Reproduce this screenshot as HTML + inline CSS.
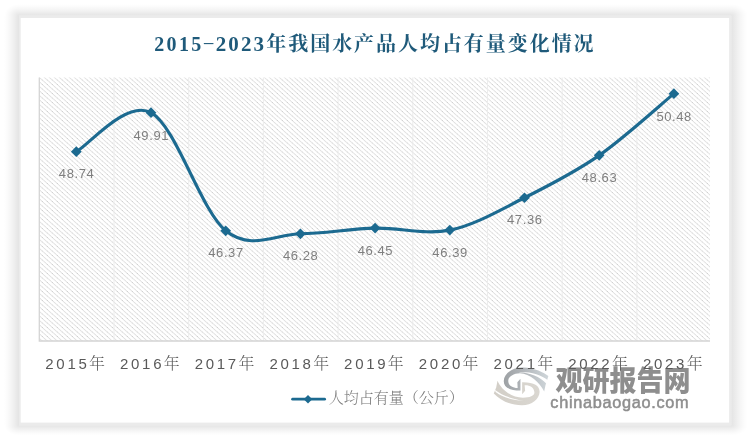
<!DOCTYPE html>
<html lang="zh-CN">
<head>
<meta charset="utf-8">
<title>2015-2023年我国水产品人均占有量变化情况</title>
<style>
html,body{margin:0;padding:0;background:#fff;}
body{width:750px;height:441px;position:relative;overflow:hidden;font-family:"Liberation Sans","Noto Sans CJK SC",sans-serif;}
svg{position:absolute;left:0;top:0;}
.title{font-family:"Liberation Serif","Noto Serif CJK SC",serif;font-weight:bold;font-size:20px;fill:#1f5a7a;}
.dl text{font-family:"Liberation Sans",sans-serif;font-size:13px;fill:#7f7f7f;letter-spacing:0.6px;text-anchor:middle;}
.yd{font-family:"Liberation Sans",sans-serif;font-size:15px;letter-spacing:2.7px;}
.yc{font-family:"Liberation Serif","Noto Serif CJK SC",serif;font-size:16px;font-weight:300;}
.years text{fill:#595959;}
.legend{font-family:"Liberation Serif","Noto Serif CJK SC",serif;font-size:15px;font-weight:300;fill:#7a7a7a;}
.wm1{font-family:"Liberation Sans","Noto Sans CJK SC",sans-serif;font-weight:900;font-size:27px;fill:#8e8e8e;}
.wm2{font-family:"Liberation Sans",sans-serif;font-size:16.3px;fill:#8e8e8e;stroke:#8e8e8e;stroke-width:0.5px;letter-spacing:0.7px;}
</style>
</head>
<body>
<svg width="750" height="441" viewBox="0 0 750 441">
<defs>
<pattern id="hatch" width="5" height="4.5" patternUnits="userSpaceOnUse" x="39.8" y="77.8">
<path d="M-1,-0.9 L6,5.4 M-1,3.6 L1,5.4 M4,-0.9 L6,0.9" stroke="#d2d2d2" stroke-width="0.8" fill="none"/>
<g fill="#bdbdbd"><circle cx="0" cy="0" r="0.55"/><circle cx="5" cy="4.5" r="0.55"/><circle cx="2.5" cy="2.25" r="0.55"/></g>
</pattern>
<linearGradient id="g1" x1="0" y1="0" x2="1" y2="0"><stop offset="0" stop-color="#9da1a4"/><stop offset="0.4" stop-color="#b0b4b8"/><stop offset="1" stop-color="#cfd6da"/></linearGradient>
<linearGradient id="g2" x1="0" y1="0" x2="1" y2="0"><stop offset="0" stop-color="#d2cec7"/><stop offset="1" stop-color="#dad7d1"/></linearGradient>
<linearGradient id="sT" x1="0" y1="1" x2="0" y2="0"><stop offset="0.00" stop-color="#000" stop-opacity="0.1080"/><stop offset="0.20" stop-color="#000" stop-opacity="0.0808"/><stop offset="0.40" stop-color="#000" stop-opacity="0.0556"/><stop offset="0.60" stop-color="#000" stop-opacity="0.0328"/><stop offset="0.80" stop-color="#000" stop-opacity="0.0133"/><stop offset="1.00" stop-color="#000" stop-opacity="0.0000"/></linearGradient>
<linearGradient id="sB" x1="0" y1="0" x2="0" y2="1"><stop offset="0.00" stop-color="#000" stop-opacity="0.1080"/><stop offset="0.20" stop-color="#000" stop-opacity="0.0808"/><stop offset="0.40" stop-color="#000" stop-opacity="0.0556"/><stop offset="0.60" stop-color="#000" stop-opacity="0.0328"/><stop offset="0.80" stop-color="#000" stop-opacity="0.0133"/><stop offset="1.00" stop-color="#000" stop-opacity="0.0000"/></linearGradient>
<linearGradient id="sL" x1="1" y1="0" x2="0" y2="0"><stop offset="0.00" stop-color="#000" stop-opacity="0.1080"/><stop offset="0.20" stop-color="#000" stop-opacity="0.0808"/><stop offset="0.40" stop-color="#000" stop-opacity="0.0556"/><stop offset="0.60" stop-color="#000" stop-opacity="0.0328"/><stop offset="0.80" stop-color="#000" stop-opacity="0.0133"/><stop offset="1.00" stop-color="#000" stop-opacity="0.0000"/></linearGradient>
<linearGradient id="sR" x1="0" y1="0" x2="1" y2="0"><stop offset="0.00" stop-color="#000" stop-opacity="0.1080"/><stop offset="0.20" stop-color="#000" stop-opacity="0.0808"/><stop offset="0.40" stop-color="#000" stop-opacity="0.0556"/><stop offset="0.60" stop-color="#000" stop-opacity="0.0328"/><stop offset="0.80" stop-color="#000" stop-opacity="0.0133"/><stop offset="1.00" stop-color="#000" stop-opacity="0.0000"/></linearGradient>
<radialGradient id="cTL" cx="1" cy="1" r="1"><stop offset="0.00" stop-color="#000" stop-opacity="0.1080"/><stop offset="0.20" stop-color="#000" stop-opacity="0.0808"/><stop offset="0.40" stop-color="#000" stop-opacity="0.0556"/><stop offset="0.60" stop-color="#000" stop-opacity="0.0328"/><stop offset="0.80" stop-color="#000" stop-opacity="0.0133"/><stop offset="1.00" stop-color="#000" stop-opacity="0.0000"/></radialGradient>
<radialGradient id="cTR" cx="0" cy="1" r="1"><stop offset="0.00" stop-color="#000" stop-opacity="0.1080"/><stop offset="0.20" stop-color="#000" stop-opacity="0.0808"/><stop offset="0.40" stop-color="#000" stop-opacity="0.0556"/><stop offset="0.60" stop-color="#000" stop-opacity="0.0328"/><stop offset="0.80" stop-color="#000" stop-opacity="0.0133"/><stop offset="1.00" stop-color="#000" stop-opacity="0.0000"/></radialGradient>
<radialGradient id="cBL" cx="1" cy="0" r="1"><stop offset="0.00" stop-color="#000" stop-opacity="0.1080"/><stop offset="0.20" stop-color="#000" stop-opacity="0.0808"/><stop offset="0.40" stop-color="#000" stop-opacity="0.0556"/><stop offset="0.60" stop-color="#000" stop-opacity="0.0328"/><stop offset="0.80" stop-color="#000" stop-opacity="0.0133"/><stop offset="1.00" stop-color="#000" stop-opacity="0.0000"/></radialGradient>
<radialGradient id="cBR" cx="0" cy="0" r="1"><stop offset="0.00" stop-color="#000" stop-opacity="0.1080"/><stop offset="0.20" stop-color="#000" stop-opacity="0.0808"/><stop offset="0.40" stop-color="#000" stop-opacity="0.0556"/><stop offset="0.60" stop-color="#000" stop-opacity="0.0328"/><stop offset="0.80" stop-color="#000" stop-opacity="0.0133"/><stop offset="1.00" stop-color="#000" stop-opacity="0.0000"/></radialGradient>
</defs>
<g id="card">
<rect x="19.0" y="4.0" width="712.2" height="11.8" fill="url(#sT)"/>
<rect x="19.0" y="425.2" width="712.2" height="10.3" fill="url(#sB)"/>
<rect x="4.0" y="15.8" width="15.0" height="409.4" fill="url(#sL)"/>
<rect x="731.2" y="15.8" width="16.5" height="409.4" fill="url(#sR)"/>
<rect x="4.0" y="4.0" width="15.0" height="11.8" fill="url(#cTL)"/>
<rect x="731.2" y="4.0" width="16.5" height="11.8" fill="url(#cTR)"/>
<rect x="4.0" y="425.2" width="15.0" height="10.3" fill="url(#cBL)"/>
<rect x="731.2" y="425.2" width="16.5" height="10.3" fill="url(#cBR)"/>
<rect x="19.0" y="15.8" width="712.2" height="409.4" fill="#ebebeb"/>
<rect x="20.7" y="18.0" width="708.4" height="404.6" fill="#fff"/>
</g>
<rect x="39.3" y="77.5" width="670.7" height="263.5" fill="url(#hatch)"/>
<g stroke="#ececec" stroke-width="1"><line x1="114.0" y1="77.5" x2="114.0" y2="341.0"/><line x1="188.7" y1="77.5" x2="188.7" y2="341.0"/><line x1="263.4" y1="77.5" x2="263.4" y2="341.0"/><line x1="338.1" y1="77.5" x2="338.1" y2="341.0"/><line x1="412.8" y1="77.5" x2="412.8" y2="341.0"/><line x1="487.5" y1="77.5" x2="487.5" y2="341.0"/><line x1="562.2" y1="77.5" x2="562.2" y2="341.0"/><line x1="636.9" y1="77.5" x2="636.9" y2="341.0"/></g>
<path d="M39.3,77.5 L39.3,341 L710.0,341" fill="none" stroke="#d4d4d4" stroke-width="1.3"/>
<text class="title" x="154.3" y="50.6" font-size="21" letter-spacing="2.3">2015</text>
<text class="title" font-size="21" transform="translate(202.6,46.8) scale(1.85,0.65)">-</text>
<text class="title" x="215.8" y="50.6"><tspan letter-spacing="2.05" font-size="21">2023</tspan><tspan letter-spacing="1.95" dx="0.3">年我国水产品人均占有量变化情况</tspan></text>
<g id="wm">
<g id="logo" transform="translate(490,364) scale(0.0998)">
<path d="M585,120 C540,85 450,40 330,35 C230,32 140,90 138,170 C137,230 190,266 305,266 L305,148 L274,182 L277,240 C230,240 185,220 183,170 C182,125 240,92 300,92 C400,96 495,180 543,275 L556,212 Z" fill="url(#g1)"/>
<path d="M579,164 L566,197 C500,128 400,84 290,82 C400,76 520,112 579,164 Z" fill="#fff"/>
<path d="M38,296 C100,362 200,414 320,414 C420,412 495,350 497,280 C498,215 440,180 322,182 L322,302 L352,267 L347,214 C400,212 442,235 445,285 C446,318 400,338 330,338 C220,338 115,262 75,168 L62,235 Z" fill="url(#g2)"/>
<path d="M48,258 L56,280 C130,336 230,364 340,368 C230,354 120,316 48,258 Z" fill="#fff"/>
</g>
<text class="wm1" transform="translate(555.5,390.8) scale(1,1.05)">观研报告网</text>
<text class="wm2" x="550.3" y="408">chinabaogao.com</text>
</g>
<path d="M76.30,151.70 C88.75,145.19 126.10,99.48 151.00,112.66 C175.90,125.84 200.80,210.60 225.70,230.79 C250.60,250.98 275.50,234.24 300.40,233.79 C325.30,233.35 350.20,228.73 375.10,228.12 C400.00,227.51 424.90,235.18 449.80,230.12 C474.70,225.06 499.60,210.21 524.50,197.75 C549.40,185.29 574.30,172.72 599.20,155.37 C624.10,138.02 661.45,103.93 673.90,93.64" fill="none" stroke="#1c6a90" stroke-width="3.1" stroke-linecap="round" stroke-linejoin="round"/>
<g fill="#1c6a90"><rect x="72.50" y="147.90" width="7.6" height="7.6" transform="rotate(45 76.30 151.70)"/><rect x="147.20" y="108.86" width="7.6" height="7.6" transform="rotate(45 151.00 112.66)"/><rect x="221.90" y="226.99" width="7.6" height="7.6" transform="rotate(45 225.70 230.79)"/><rect x="296.60" y="229.99" width="7.6" height="7.6" transform="rotate(45 300.40 233.79)"/><rect x="371.30" y="224.32" width="7.6" height="7.6" transform="rotate(45 375.10 228.12)"/><rect x="446.00" y="226.32" width="7.6" height="7.6" transform="rotate(45 449.80 230.12)"/><rect x="520.70" y="193.95" width="7.6" height="7.6" transform="rotate(45 524.50 197.75)"/><rect x="595.40" y="151.57" width="7.6" height="7.6" transform="rotate(45 599.20 155.37)"/><rect x="670.10" y="89.84" width="7.6" height="7.6" transform="rotate(45 673.90 93.64)"/></g>
<g class="dl"><text x="76.6" y="178.3">48.74</text><text x="151.3" y="140.3">49.91</text><text x="226.0" y="257.4">46.37</text><text x="300.7" y="259.9">46.28</text><text x="375.4" y="254.7">46.45</text><text x="450.1" y="256.7">46.39</text><text x="524.8" y="224.4">47.36</text><text x="599.5" y="182.0">48.63</text><text x="674.2" y="120.5">50.48</text></g>
<g class="years"><text x="45.3" y="368.6"><tspan class="yd">2015</tspan><tspan class="yc" dx="-0.4">年</tspan></text><text x="120.0" y="368.6"><tspan class="yd">2016</tspan><tspan class="yc" dx="-0.4">年</tspan></text><text x="194.7" y="368.6"><tspan class="yd">2017</tspan><tspan class="yc" dx="-0.4">年</tspan></text><text x="269.4" y="368.6"><tspan class="yd">2018</tspan><tspan class="yc" dx="-0.4">年</tspan></text><text x="344.1" y="368.6"><tspan class="yd">2019</tspan><tspan class="yc" dx="-0.4">年</tspan></text><text x="418.8" y="368.6"><tspan class="yd">2020</tspan><tspan class="yc" dx="-0.4">年</tspan></text><text x="493.5" y="368.6"><tspan class="yd">2021</tspan><tspan class="yc" dx="-0.4">年</tspan></text><text x="568.2" y="368.6"><tspan class="yd">2022</tspan><tspan class="yc" dx="-0.4">年</tspan></text><text x="642.9" y="368.6"><tspan class="yd">2023</tspan><tspan class="yc" dx="-0.4">年</tspan></text></g>
<line x1="292.6" y1="399.2" x2="324.6" y2="399.2" stroke="#1c6a90" stroke-width="2.8" stroke-linecap="round"/>
<rect x="305" y="396.2" width="6" height="6" transform="rotate(45 308 399.2)" fill="#1c6a90"/>
<text class="legend" x="328.7" y="403.3">人均占有量（公斤）</text>
</svg>
</body>
</html>
